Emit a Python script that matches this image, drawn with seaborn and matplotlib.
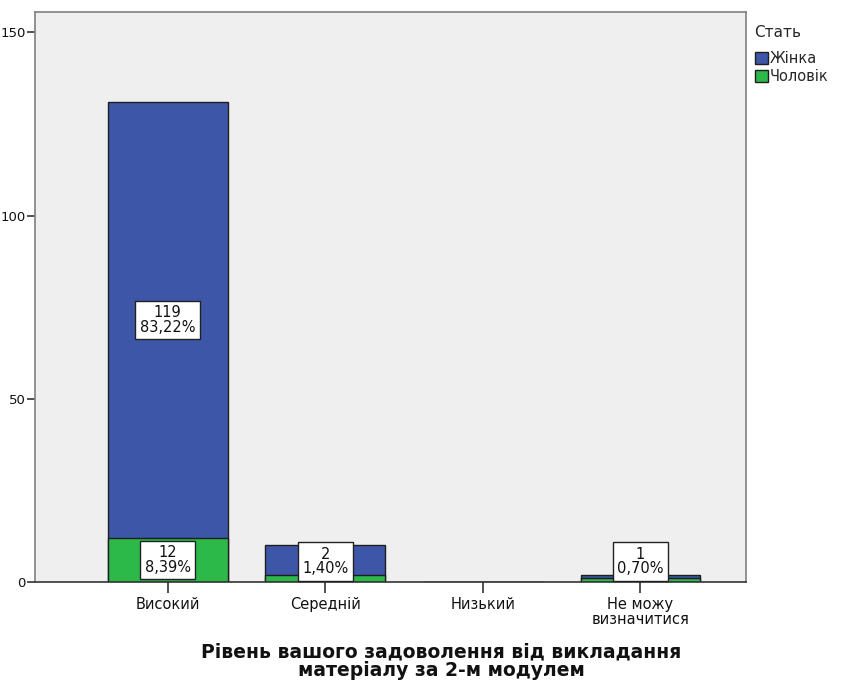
import matplotlib
matplotlib.use("Agg")
import matplotlib.pyplot as plt
import seaborn as sns
import pandas as pd
from matplotlib.patches import Patch

# Survey counts by satisfaction level and gender
categories = ["Високий", "Середній", "Низький", "Не можу\nвизначитися"]
female = [119, 8, 0, 1]
male = [12, 2, 0, 1]
series_names = ["Жінка", "Чоловік"]

# Segments that carry a value box: (category index, series, count)
labelled = [(0, "Жінка", 119), (0, "Чоловік", 12), (1, "Чоловік", 2), (3, "Чоловік", 1)]

grand_total = sum(female) + sum(male)
blue = "#3d56a8"
green = "#2db84a"
edge = "#1e1e1e"

sns.set_theme(style="white")
plt.rcParams["font.family"] = ["DejaVu Sans"]

df = pd.DataFrame({"cat": categories,
                   "female": female,
                   "male": male})
df["total"] = df["female"] + df["male"]

fig = plt.figure(figsize=(8.42, 6.80), dpi=100)
ax = fig.add_axes([0.042, 0.144, 0.844, 0.838])
ax.set_facecolor("#efefef")

sns.barplot(data=df, x="cat", y="total", color=blue, width=0.76,
            edgecolor=edge, linewidth=1.0, saturation=1, ax=ax)
sns.barplot(data=df, x="cat", y="male", color=green, width=0.76,
            edgecolor=edge, linewidth=1.0, saturation=1, ax=ax)

ax.set_xlim(-0.84, 3.67)
ax.set_ylim(0, 155.5)
ax.set_yticks([0, 50, 100, 150])
ax.tick_params(axis="y", length=6, width=1.2, color="#333333", labelsize=9.5,
               pad=1, left=True, labelcolor="#111111")
ax.tick_params(axis="x", length=8, width=1.2, color="#333333", labelsize=10.5,
               pad=3, bottom=True, direction="out", labelcolor="#111111")
for t in ax.get_xticklabels():
    t.set_linespacing(0.95)
ax.set_ylabel("")
ax.set_xlabel("")

fig.text(441 / 842, 1 - 661 / 680,
         "Рівень вашого задоволення від викладання\nматеріалу за 2-м модулем",
         ha="center", va="center", fontsize=13.5, fontweight="bold",
         linespacing=0.95, color="#111111")

for s in ax.spines.values():
    s.set_color("#808080")
    s.set_linewidth(1.2)
ax.spines["bottom"].set_color("#333333")

# value boxes centred in their segments, kept clear of the axis line
for i, series, count in labelled:
    if series == "Жінка":
        center = male[i] + count / 2
    else:
        center = count / 2
    center = max(center, 5.6)
    pct = f"{count / grand_total * 100:.2f}".replace(".", ",") + "%"
    ax.text(i, center, f"{count}\n{pct}", ha="center", va="center",
            fontsize=10.5, linespacing=0.95, color="#111111",
            bbox=dict(boxstyle="square,pad=0.32", facecolor="white",
                      edgecolor="#222222", linewidth=1.0))

handles = [Patch(facecolor=blue, edgecolor=edge, label=series_names[0]),
           Patch(facecolor=green, edgecolor=edge, label=series_names[1])]
leg = ax.legend(handles=handles, title="Стать", loc="upper left",
                bbox_to_anchor=(1.012, 0.978), frameon=False, fontsize=10.5,
                title_fontsize=11, handlelength=0.9, handleheight=0.95,
                handletextpad=0.15, labelspacing=0.22, borderaxespad=0,
                borderpad=0)
leg._legend_box.align = "left"
leg._legend_box.sep = 8

fig.savefig("out.png", dpi=100, facecolor="white")
